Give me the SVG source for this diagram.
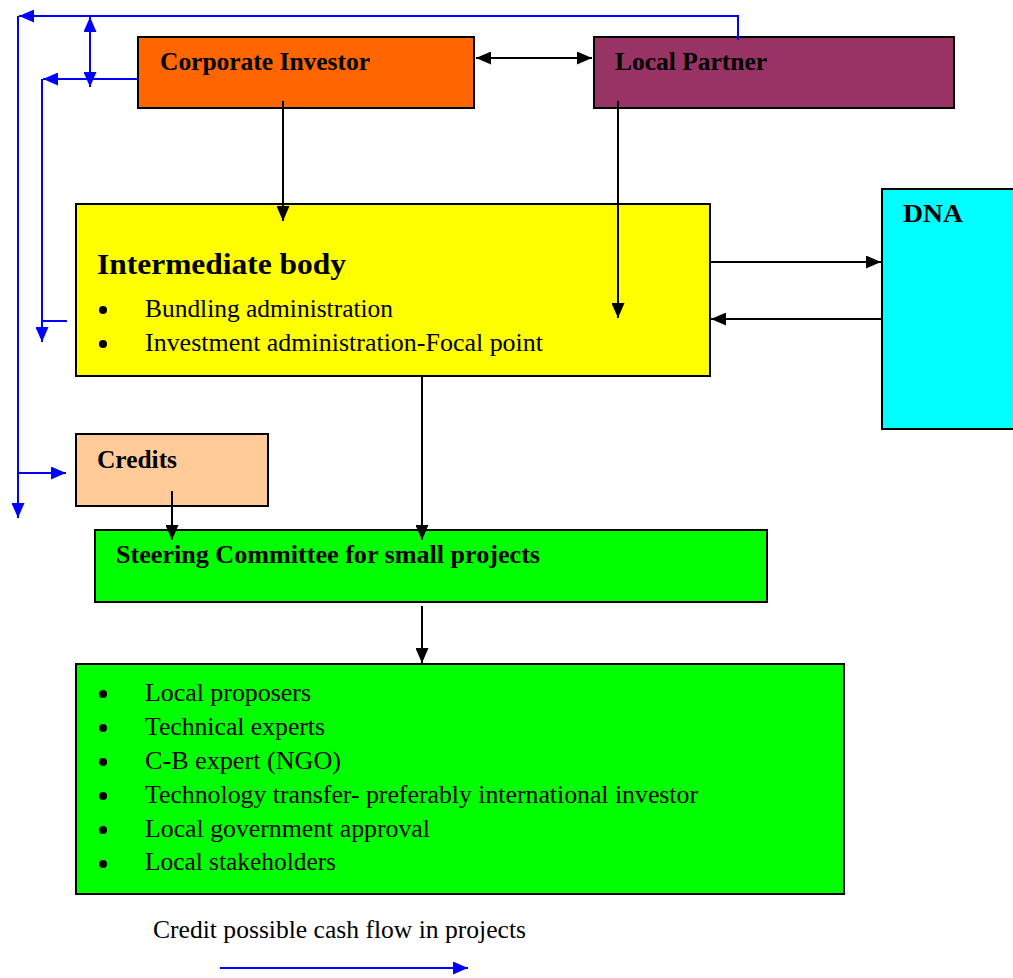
<svg xmlns="http://www.w3.org/2000/svg" width="1013" height="978" viewBox="0 0 1013 978">
<style>
.box{stroke:#000;stroke-width:2}
.t{font-family:"Liberation Serif",serif;fill:#000}
.b{font-weight:bold;font-size:25px}
.r{font-size:25px}
.k{stroke:#000;stroke-width:2;fill:none}
.bl{stroke:#0000FF;stroke-width:2;fill:none}
</style>
<defs>
<marker id="ak" viewBox="0 0 15 13" refX="15" refY="6.5" markerWidth="15" markerHeight="13" orient="auto-start-reverse" markerUnits="userSpaceOnUse"><path d="M0,0 L15,6.5 L0,13 z" fill="#000"/></marker>
<marker id="ab" viewBox="0 0 15 13" refX="15" refY="6.5" markerWidth="15" markerHeight="13" orient="auto-start-reverse" markerUnits="userSpaceOnUse"><path d="M0,0 L15,6.5 L0,13 z" fill="#0000FF"/></marker>
</defs>
<rect width="1013" height="978" fill="#fff"/>
<g id="corporate-investor"><rect class="box" x="138" y="37" width="336" height="71" fill="#FF6600"/><text class="t b" x="160" y="70" textLength="210" lengthAdjust="spacingAndGlyphs">Corporate Investor</text></g>
<g id="local-partner"><rect class="box" x="594" y="37" width="360" height="71" fill="#993366"/><text class="t b" x="615" y="70" textLength="152" lengthAdjust="spacingAndGlyphs">Local Partner</text></g>
<g id="intermediate-body"><rect class="box" x="76" y="204" width="634" height="172" fill="#FFFF00"/>
<text class="t" x="97" y="274" font-size="30" font-weight="bold" textLength="249" lengthAdjust="spacingAndGlyphs">Intermediate body</text>
<circle cx="103" cy="310" r="4" fill="#000"/><text class="t r" x="145" y="317" textLength="248" lengthAdjust="spacingAndGlyphs">Bundling administration</text>
<circle cx="103" cy="344" r="4" fill="#000"/><text class="t r" x="145" y="351" textLength="398" lengthAdjust="spacingAndGlyphs">Investment administration-Focal point</text></g>
<g id="dna"><rect class="box" x="882" y="189" width="140" height="240" fill="#00FFFF"/><text class="t b" x="903" y="222" textLength="60" lengthAdjust="spacingAndGlyphs">DNA</text></g>
<g id="credits"><rect class="box" x="76" y="434" width="192" height="72" fill="#FFCC99"/><text class="t b" x="97" y="468" textLength="80" lengthAdjust="spacingAndGlyphs">Credits</text></g>
<g id="steering-committee"><rect class="box" x="95" y="530" width="672" height="72" fill="#00FF00"/><text class="t b" x="116" y="563" textLength="424" lengthAdjust="spacingAndGlyphs">Steering Committee for small projects</text></g>
<g id="participants"><rect class="box" x="76" y="664" width="768" height="230" fill="#00FF00"/>
<g fill="#000"><circle cx="103" cy="694" r="4"/><circle cx="103" cy="728" r="4"/><circle cx="103" cy="762" r="4"/><circle cx="103" cy="796" r="4"/><circle cx="103" cy="830" r="4"/><circle cx="103" cy="864" r="4"/></g>
<text class="t r" x="145" y="701" textLength="166" lengthAdjust="spacingAndGlyphs">Local proposers</text>
<text class="t r" x="145" y="735" textLength="180" lengthAdjust="spacingAndGlyphs">Technical experts</text>
<text class="t r" x="145" y="769" textLength="196" lengthAdjust="spacingAndGlyphs">C-B expert (NGO)</text>
<text class="t r" x="145" y="803" textLength="553" lengthAdjust="spacingAndGlyphs">Technology transfer- preferably international investor</text>
<text class="t r" x="145" y="837" textLength="285" lengthAdjust="spacingAndGlyphs">Local government approval</text>
<text class="t r" x="145" y="870" textLength="191" lengthAdjust="spacingAndGlyphs">Local stakeholders</text></g>
<g id="legend"><text class="t r" x="153" y="938" textLength="373" lengthAdjust="spacingAndGlyphs">Credit possible cash flow in projects</text>
<line class="bl" x1="220" y1="968" x2="468" y2="968" marker-end="url(#ab)"/></g>
<g id="connectors">
<line class="k" x1="476" y1="58" x2="592" y2="58" marker-start="url(#ak)" marker-end="url(#ak)"/>
<line class="k" x1="283" y1="101" x2="283" y2="221" marker-end="url(#ak)"/>
<line class="k" x1="618" y1="101" x2="618" y2="318" marker-end="url(#ak)"/>
<line class="k" x1="710" y1="262" x2="881" y2="262" marker-end="url(#ak)"/>
<line class="k" x1="882" y1="319" x2="711" y2="319" marker-end="url(#ak)"/>
<line class="k" x1="422" y1="376" x2="422" y2="540" marker-end="url(#ak)"/>
<line class="k" x1="172" y1="491" x2="172" y2="540" marker-end="url(#ak)"/>
<line class="k" x1="422" y1="606" x2="422" y2="663" marker-end="url(#ak)"/>
<polyline class="bl" points="738,40 738,16 19,16" marker-end="url(#ab)"/>
<line class="bl" x1="18" y1="16" x2="18" y2="518" marker-end="url(#ab)"/>
<line class="bl" x1="18" y1="473" x2="66" y2="473" marker-end="url(#ab)"/>
<line class="bl" x1="90" y1="17" x2="90" y2="87" marker-start="url(#ab)" marker-end="url(#ab)"/>
<line class="bl" x1="138" y1="79" x2="43" y2="79" marker-end="url(#ab)"/>
<line class="bl" x1="42" y1="79" x2="42" y2="342" marker-end="url(#ab)"/>
<line class="bl" x1="42" y1="321" x2="67" y2="321"/>
</g>
</svg>
